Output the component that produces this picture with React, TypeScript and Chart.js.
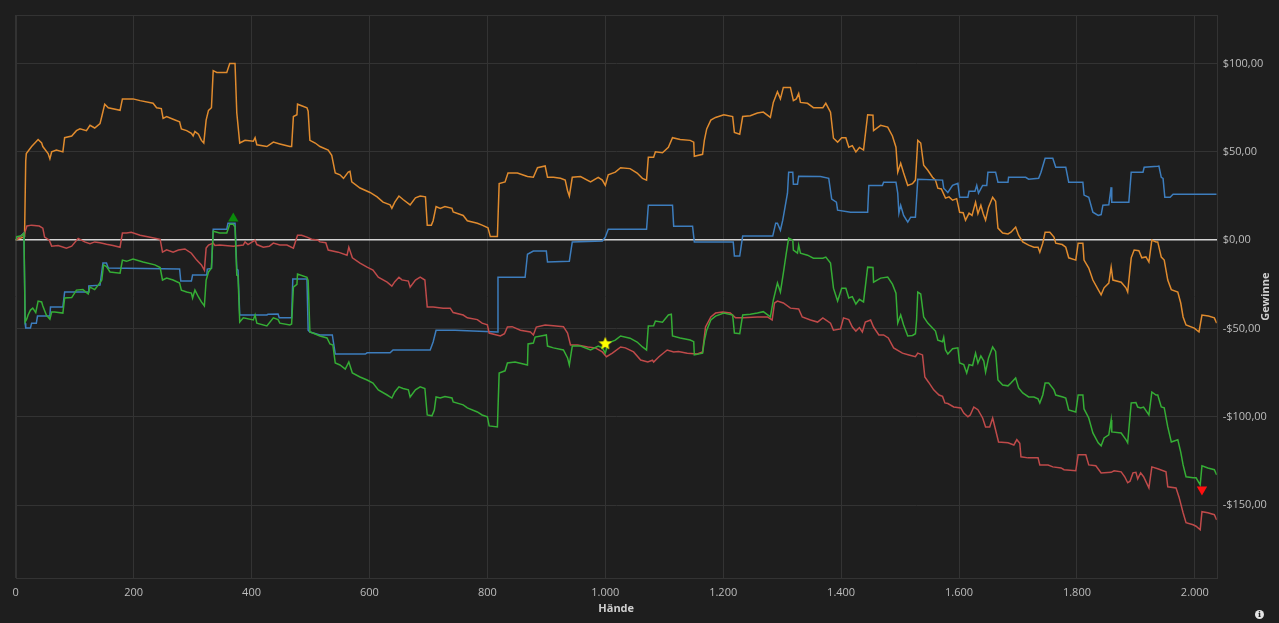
import React, { useEffect, useRef } from 'react';
import { Chart, registerables } from 'chart.js';

Chart.register(...registerables);

// ---- data ---------------------------------------------------------------
const xTickValues = [0, 200, 400, 600, 800, 1000, 1200, 1400, 1600, 1800, 2000];
const yTickValues = [-150, -100, -50, 0, 50, 100];
const X_MIN = 0;
const X_MAX = 2037;
const Y_MIN = -191.5;
const Y_MAX = 127.5;

const xTitle = 'Hände';
const yTitle = 'Gewinne';

// [hand, winnings $]
const orangeSeries: number[][] = [
  [0,0],[15,2],[17,45],[18,49],[27,53],[38,57],[44,55],[46,53],[55,49],[58,46],[61,50],[69,51],[80,50],[83,58],[95,59],[103,62],[109,63],[120,62],[126,65],[134,63.5],[143,66],[146,70],[151,77],[157,75],[177,73.5],[181,80],[199,80],[211,79],[233,77.5],[239,75],[247,74.5],[250,69],[256,70],[267,68.5],[278,67],[281,63],[290,62],[298,60.5],[301,59],[304,61.5],[310,60],[315,56.5],[319,55],[323,68],[327,73.5],[332,75],[335,96],[341,95],[358,95],[363,100],[372,100],[375,72],[380,55],[389,56.5],[403,56],[406,58],[409,54],[426,53],[437,55.5],[448,54.5],[465,53],[468,53],[471,70],[477,71],[478,77],[494,75],[496,73],[499,56.5],[508,55],[516,53],[530,51],[536,48],[542,38],[550,37],[556,35],[564,38.5],[567,39],[570,33],[584,29.5],[601,27],[613,24.5],[623,21.5],[635,20],[638,18],[643,21.5],[650,25],[657,23],[669,20],[678,24],[686,25],[695,24.5],[698,8.5],[705,8.5],[708,11],[713,19],[720,18],[728,19],[740,18],[742,16],[759,14],[766,11],[783,9.6],[791,8.5],[801,7],[805,2],[817,2],[820,32],[830,33],[835,38],[851,38],[868,36],[878,35.6],[885,41],[898,42],[902,35.6],[912,35.6],[924,35],[932,34],[936,28],[939,25],[944,35.6],[958,36],[975,33],[988,35.6],[995,34],[1000,31],[1005,37],[1017,38.5],[1026,41],[1042,40.5],[1054,38],[1063,35],[1070,34],[1073,47],[1082,47],[1085,50],[1097,49.5],[1107,52.6],[1114,58],[1127,57],[1144,56.5],[1150,55.5],[1151,47.5],[1165,48.6],[1168,56.5],[1172,63],[1179,68],[1187,69.5],[1201,71],[1216,70],[1219,61],[1228,60],[1233,70],[1246,70.5],[1258,72],[1268,72.5],[1280,69.5],[1285,78],[1292,84],[1297,80],[1302,86.5],[1314,86.5],[1319,79],[1324,80],[1328,83],[1331,78],[1343,77.5],[1353,75],[1369,75],[1374,77.5],[1382,72.5],[1387,57.7],[1394,55.5],[1401,58],[1408,58],[1413,52.6],[1419,53.5],[1425,50],[1431,52.5],[1438,51],[1445,71],[1454,70.7],[1455,62],[1467,65],[1479,64],[1487,59],[1493,52.6],[1496,38.5],[1501,43.5],[1506,38],[1513,31],[1521,32],[1526,34],[1528,45],[1530,56.5],[1535,55],[1540,42.4],[1547,39.6],[1555,35.6],[1560,34],[1564,29.4],[1570,29],[1577,23.8],[1583,24.5],[1589,22.6],[1596,23.5],[1601,15.8],[1607,15.5],[1611,11.3],[1617,15.3],[1622,14],[1628,21.5],[1632,15],[1637,19.8],[1641,15],[1645,11.3],[1650,18.7],[1657,24.3],[1662,22],[1666,6.8],[1674,4],[1683,3.5],[1688,4.5],[1696,7.4],[1701,2.8],[1708,-1],[1718,-2.8],[1727,-4],[1734,-4],[1737,-6.8],[1742,-1.7],[1746,4.5],[1754,4.5],[1761,1.7],[1764,-1.7],[1775,-2.5],[1781,-4],[1786,-10],[1798,-11.3],[1802,-1.7],[1810,-1.7],[1812,-11.3],[1820,-15.8],[1827,-22.6],[1836,-28],[1841,-31],[1846,-27],[1854,-24.3],[1858,-15.3],[1861,-22.6],[1875,-23.8],[1883,-27],[1886,-29.4],[1892,-10],[1897,-5.6],[1905,-6],[1910,-10],[1917,-9.5],[1922,-12.4],[1927,0],[1934,-1],[1937,-1],[1943,-9.6],[1948,-11.3],[1954,-22.6],[1960,-28],[1971,-29.4],[1976,-35.6],[1980,-43.5],[1985,-48],[1999,-49.8],[2007,-52],[2012,-42.4],[2023,-43],[2033,-44],[2037,-47]
];

const redSeries: number[][] = [
  [0,0],[15,3.8],[19,8],[27,8.5],[40,8],[46,6.8],[49,1.7],[57,0],[61,-3.4],[72,-3],[86,-4.5],[95,-3.4],[106,1],[117,-1],[126,-2],[134,-1],[143,-1.5],[154,-2.3],[165,-3],[177,-4],[181,4],[188,4],[196,4.5],[211,2.8],[228,1.7],[245,0.5],[249,-6.8],[256,-5.5],[267,-6.8],[276,-5.6],[287,-5],[298,-7.4],[307,-11.3],[315,-14],[320,-17],[323,-4.5],[327,-2.8],[335,-1.7],[338,-3],[346,-2.8],[369,-3.4],[386,-2.8],[389,-1],[394,-2.5],[406,0],[409,-2.5],[420,-4],[430,-3.5],[437,-1.7],[448,-2.8],[460,-2.8],[471,-4.5],[478,2.8],[485,2.8],[494,1.7],[502,0.5],[513,0],[516,-1],[526,-1.5],[530,-5.6],[547,-6.8],[562,-8.5],[565,-4],[571,-10],[584,-13],[596,-15.3],[606,-17],[615,-21],[630,-23.8],[638,-26],[643,-23.5],[650,-21],[655,-22.5],[666,-23.2],[669,-26.6],[678,-22.6],[686,-21],[694,-22.6],[698,-37.9],[708,-37.9],[725,-38.5],[737,-38.5],[742,-41],[759,-42.4],[766,-44],[783,-45],[791,-47],[800,-48],[803,-52.6],[822,-54.3],[829,-53],[834,-49.2],[842,-49],[856,-51],[873,-52],[878,-53.7],[883,-49.2],[898,-48],[912,-48.5],[929,-49],[936,-52.6],[941,-59.4],[953,-59.4],[970,-60.5],[983,-61],[995,-63.3],[1002,-66],[1012,-64],[1026,-60.5],[1034,-61],[1048,-63.3],[1060,-67.9],[1072,-69],[1080,-68],[1082,-69],[1091,-66],[1105,-62.2],[1116,-63.3],[1124,-63],[1139,-64],[1156,-64.5],[1165,-63.3],[1170,-49.2],[1179,-43.5],[1187,-41.3],[1199,-40.7],[1212,-41.3],[1221,-44],[1234,-44],[1258,-43.5],[1275,-43.5],[1283,-45.2],[1287,-35.6],[1292,-34.5],[1302,-35.6],[1314,-38.5],[1328,-39],[1334,-43.5],[1348,-45.2],[1360,-46.4],[1369,-44],[1382,-47],[1387,-51],[1399,-50.3],[1404,-44],[1413,-45],[1419,-49.2],[1425,-51.5],[1431,-49.5],[1436,-52],[1441,-46.4],[1450,-45.2],[1455,-49.2],[1464,-53.7],[1472,-53.7],[1480,-55.4],[1489,-61],[1504,-64],[1515,-65],[1526,-66],[1530,-64],[1538,-65],[1542,-77.5],[1548,-80.3],[1557,-84.8],[1566,-87.7],[1572,-88.5],[1576,-92.2],[1581,-92.5],[1591,-94.5],[1603,-95],[1608,-97.9],[1615,-100],[1619,-99],[1625,-94.5],[1632,-96],[1640,-100.7],[1645,-105.8],[1652,-105.8],[1657,-100.7],[1662,-107.5],[1667,-114.3],[1683,-114.8],[1693,-116],[1698,-113],[1703,-115],[1705,-122.7],[1717,-123.3],[1734,-123.3],[1737,-127.3],[1751,-127.3],[1759,-128.4],[1773,-129],[1778,-130],[1798,-130.6],[1802,-121.6],[1815,-121.6],[1820,-127.3],[1832,-127.8],[1841,-131.8],[1858,-131.5],[1863,-130.6],[1875,-131.2],[1881,-134],[1886,-137.4],[1890,-136.5],[1895,-131.8],[1900,-131.5],[1903,-135.2],[1908,-131.8],[1913,-134],[1922,-140.3],[1927,-128.4],[1937,-129.5],[1951,-131.2],[1954,-139.7],[1968,-140.3],[1973,-145.4],[1980,-154.4],[1985,-160],[1997,-161.2],[2002,-162],[2009,-164],[2012,-153.8],[2022,-154.4],[2033,-155.5],[2037,-158.4]
];

const blueSeries: number[][] = [
  [0,0],[14,4],[16,-47],[17,-49.8],[25,-49.8],[27,-47],[35,-47],[37,-43],[58,-43],[59,-37.9],[80,-37.9],[83,-29.4],[123,-29.4],[124,-26],[143,-25.5],[148,-13],[154,-13],[157,-15.8],[278,-16.4],[280,-23.2],[298,-23.2],[300,-19.8],[324,-19.8],[325,-16.4],[332,-16],[335,6.2],[358,6.2],[360,9.6],[372,9.6],[375,-16.4],[377,-17],[380,-42.4],[426,-42.4],[428,-42],[445,-41.9],[447,-44],[468,-44],[470,-22],[494,-22],[496,-51],[499,-52],[516,-53.7],[537,-53.7],[542,-64.5],[593,-64.5],[596,-63.8],[635,-63.8],[640,-62.2],[703,-62.2],[708,-57.7],[713,-51],[745,-51],[817,-52],[818,-21],[864,-21],[868,-8],[878,-6.2],[900,-6.2],[902,-12.4],[939,-11.9],[944,-1],[995,-0.5],[1000,1.7],[1005,6.2],[1070,6.2],[1073,19.8],[1114,19.8],[1116,7.9],[1148,7.9],[1151,-1],[1217,-1],[1219,-9],[1228,-9],[1233,2.3],[1284,2.3],[1289,9.6],[1292,9.6],[1297,5.6],[1301,11.3],[1304,17],[1309,26.6],[1311,38.5],[1318,38.5],[1319,31.7],[1326,31.7],[1328,36.2],[1365,36],[1379,35],[1384,23.2],[1392,21.5],[1394,17],[1416,15.8],[1445,15.8],[1447,31],[1470,31],[1472,32.8],[1493,32.8],[1496,26.6],[1498,15.3],[1501,19.8],[1506,14],[1513,10.2],[1518,13],[1526,13],[1530,34.5],[1572,34],[1574,29.4],[1581,27],[1589,31],[1598,32.2],[1601,24.3],[1615,24.3],[1617,27.7],[1627,27.7],[1630,31],[1633,26.6],[1640,31],[1647,31],[1649,38.5],[1662,38.5],[1666,32.8],[1683,32.8],[1684,35.6],[1713,35.6],[1718,34.5],[1735,35],[1739,38.5],[1746,46.4],[1759,46.4],[1764,41.3],[1781,41.3],[1786,32.8],[1810,32.8],[1812,25.5],[1820,24.3],[1827,15.8],[1836,14],[1841,14.5],[1844,19.8],[1854,20],[1858,30],[1859,21.5],[1888,21.5],[1892,38.5],[1912,38.5],[1914,41.3],[1937,41.9],[1939,42],[1943,35.6],[1946,35],[1949,24.3],[1958,24.3],[1963,26],[2037,26]
];

const greenSeries: number[][] = [
  [0,0],[2,2],[10,2.5],[14,4],[16,-46.4],[19,-44.5],[21,-42.4],[25,-39.6],[29,-38.5],[34,-41],[38,-34.5],[44,-35],[46,-37.3],[52,-42.4],[58,-44.7],[61,-40.7],[66,-40.7],[80,-41.3],[83,-32.8],[95,-32.5],[103,-28.3],[114,-28],[123,-30.5],[126,-26.6],[134,-28],[140,-25.5],[146,-22.6],[149,-14],[154,-15],[160,-18],[177,-18.7],[181,-11.3],[188,-12],[199,-10.7],[216,-12.4],[236,-14],[245,-15.5],[249,-22.6],[256,-21.5],[267,-22.6],[278,-24.3],[281,-28.3],[290,-29.4],[298,-30],[300,-32.8],[304,-28.3],[310,-32.2],[315,-35],[320,-37.3],[323,-22.6],[327,-18],[332,-15.8],[335,5],[346,4],[358,4],[363,9],[369,9],[372,7.4],[375,-19.8],[377,-20],[380,-46.4],[386,-44],[403,-45.2],[406,-42.4],[409,-47],[426,-48.6],[437,-44],[445,-45],[448,-47],[465,-48],[468,-47.5],[471,-26.6],[477,-25],[478,-19.2],[494,-21],[496,-23],[499,-52],[504,-52.6],[516,-54.3],[528,-55.4],[533,-58.8],[538,-59.4],[542,-69.6],[550,-70.7],[559,-73],[565,-69],[571,-75.2],[584,-77.5],[596,-79.2],[606,-80.9],[615,-84.8],[630,-87.7],[638,-89.4],[643,-86],[650,-83.1],[657,-84],[666,-84.8],[669,-88.8],[678,-84.8],[686,-83.1],[694,-84],[698,-99],[706,-99.5],[710,-96.2],[713,-88.8],[720,-89.4],[728,-88.5],[740,-89.4],[742,-91.6],[759,-93.3],[766,-95],[783,-97.3],[791,-99],[800,-100],[803,-105.2],[817,-105.8],[820,-75.2],[830,-74],[834,-69.6],[847,-69],[868,-70.7],[869,-58.8],[878,-58.3],[881,-54.9],[900,-53.7],[902,-60],[912,-61],[929,-62.2],[936,-66.7],[939,-70.7],[944,-60],[958,-60],[975,-62.2],[988,-60],[995,-61],[1000,-64],[1005,-58.3],[1017,-56.6],[1026,-54.3],[1042,-55.5],[1054,-57.7],[1063,-60.5],[1070,-62.2],[1073,-48.6],[1082,-48.5],[1085,-45.8],[1097,-46.5],[1107,-42.4],[1112,-42],[1114,-54.3],[1127,-55.4],[1144,-56.6],[1150,-57.5],[1151,-65],[1165,-64],[1168,-57],[1172,-51],[1179,-45.2],[1187,-43],[1201,-41.3],[1216,-42.4],[1219,-52.6],[1228,-53],[1233,-42.4],[1246,-42],[1258,-41.3],[1268,-40.5],[1280,-43.5],[1285,-34],[1292,-24.3],[1297,-29.4],[1302,-18.7],[1307,-7.4],[1311,1.1],[1318,0],[1319,-5.6],[1326,-7.4],[1328,-2.8],[1331,-7.4],[1343,-8.5],[1353,-10.2],[1369,-10.2],[1374,-9.6],[1382,-13],[1387,-27.2],[1394,-34.5],[1401,-27.2],[1408,-27.2],[1413,-32.8],[1419,-32],[1425,-36.2],[1431,-33.5],[1438,-35],[1445,-15.3],[1454,-15.5],[1455,-23.8],[1467,-21.5],[1479,-20.9],[1487,-24.9],[1493,-30],[1496,-47],[1501,-42.4],[1506,-48],[1513,-54.3],[1521,-54],[1526,-53],[1528,-45],[1530,-29.4],[1535,-30.5],[1540,-43.5],[1547,-47],[1555,-49.8],[1560,-51.5],[1564,-56.6],[1572,-57.5],[1574,-55],[1577,-62.2],[1581,-64.5],[1589,-61.5],[1598,-61],[1601,-69.6],[1608,-70.5],[1613,-75.2],[1617,-70.5],[1623,-71],[1628,-64],[1632,-69.6],[1637,-65.6],[1642,-68.5],[1645,-74.7],[1650,-66.7],[1657,-60.5],[1662,-63],[1666,-79.2],[1674,-82],[1683,-82.5],[1688,-80.9],[1696,-78],[1701,-83.7],[1708,-86.5],[1718,-88.8],[1727,-88.8],[1734,-89.9],[1737,-92.2],[1742,-87.7],[1746,-80.9],[1752,-80.9],[1761,-84.8],[1764,-87.7],[1776,-88.8],[1781,-89.4],[1786,-96.2],[1798,-97.3],[1802,-87.7],[1810,-87.7],[1812,-95.6],[1820,-100.7],[1827,-109.2],[1836,-114.8],[1841,-116.5],[1846,-112],[1854,-110.3],[1858,-101.8],[1859,-108.6],[1875,-109.2],[1883,-113],[1886,-114.8],[1892,-92.2],[1900,-92],[1903,-94.5],[1908,-95],[1913,-94.5],[1922,-99],[1927,-86],[1934,-87.7],[1937,-87.7],[1943,-94.5],[1948,-95],[1954,-105.8],[1960,-114.3],[1971,-113],[1976,-120],[1980,-127.3],[1985,-134],[1997,-134.6],[2002,-134.6],[2009,-138.6],[2012,-127.8],[2022,-129],[2033,-130],[2037,-133]
];

// markers: [hand, $]
const maxMarker = [369, 12.3];
const starMarker = [1000, -58.3];
const minMarker = [2012, -141.2];

// ---- styling helpers ----------------------------------------------------
const BG = '#1e1e1e';
const GRID = '#333333';
const TEXT = '#bdbdbd';
const FONT = '"Open Sans", "Noto Sans", sans-serif';

const fmtX = (v: number) => {
  const n = Math.round(v);
  if (n >= 1000) return Math.floor(n / 1000) + '.' + String(n % 1000).padStart(3, '0');
  return String(n);
};
const fmtY = (v: number) => (v < 0 ? '-' : '') + '$' + Math.abs(v).toFixed(2).replace('.', ',');

const toPts = (s: number[][]) => s.map(([x, y]) => ({ x, y }));

function makeStar(size: number, color: string) {
  const c = document.createElement('canvas');
  c.width = size;
  c.height = size;
  const g = c.getContext('2d')!;
  const cx = size / 2;
  const cy = size / 2 + size * 0.05;
  const R = size / 2;
  const r = R * 0.45;
  g.beginPath();
  for (let i = 0; i < 10; i++) {
    const ang = -Math.PI / 2 + (i * Math.PI) / 5;
    const rad = i % 2 ? r : R;
    g.lineTo(cx + rad * Math.cos(ang), cy + rad * Math.sin(ang));
  }
  g.closePath();
  g.fillStyle = color;
  g.fill();
  return c;
}

const framePlugin = {
  id: 'frameAndTitles',
  beforeDatasetsDraw(chart: any) {
    const { ctx, chartArea: a } = chart;
    ctx.save();
    ctx.strokeStyle = GRID;
    ctx.lineWidth = 1;
    ctx.strokeRect(Math.round(a.left) + 0.5, Math.round(a.top) + 0.5, Math.round(a.right - a.left), Math.round(a.bottom - a.top));
    ctx.restore();
  },
  afterDraw(chart: any) {
    const { ctx, chartArea: a } = chart;
    ctx.save();
    ctx.fillStyle = '#cfcfcf';
    ctx.font = 'bold 11px ' + FONT;
    ctx.textAlign = 'center';
    ctx.textBaseline = 'middle';
    ctx.fillText(xTitle, (a.left + a.right) / 2, 609);
    ctx.translate(1266, (a.top + a.bottom) / 2);
    ctx.rotate(-Math.PI / 2);
    ctx.fillText(yTitle, 0, 0);
    ctx.restore();
  },
};

export default function App() {
  const ref = useRef<HTMLCanvasElement>(null);

  useEffect(() => {
    if (!ref.current) return;
    const star = makeStar(14, '#ffff00');
    const line = (data: number[][], color: string) => ({
      type: 'line' as const,
      data: toPts(data),
      borderColor: color,
      backgroundColor: color,
      borderWidth: 1.5,
      pointRadius: 0,
      tension: 0,
      fill: false,
    });
    const chart = new Chart(ref.current, {
      type: 'line',
      data: {
        datasets: [
          {
            type: 'line',
            data: toPts([maxMarker]),
            showLine: false,
            pointStyle: 'triangle',
            pointRadius: 6,
            pointBackgroundColor: '#0b8a0b',
            pointBorderColor: '#0b8a0b',
            pointBorderWidth: 0,
          } as any,
          {
            type: 'line',
            data: toPts([minMarker]),
            showLine: false,
            pointStyle: 'triangle',
            rotation: 180,
            pointRadius: 6,
            pointBackgroundColor: '#ff1010',
            pointBorderColor: '#ff1010',
            pointBorderWidth: 0,
          } as any,
          {
            type: 'line',
            data: toPts([starMarker]),
            showLine: false,
            pointStyle: star,
            pointRadius: 7,
          } as any,
          line(greenSeries, '#35ad35'),
          line(redSeries, '#bf4a4a'),
          line(blueSeries, '#3d7dbd'),
          line(orangeSeries, '#e08b2e'),
        ],
      },
      options: {
        responsive: false,
        animation: false,
        parsing: false as any,
        normalized: true,
        layout: { padding: { left: 15.7, top: 15, right: 0, bottom: 0 } },
        plugins: {
          legend: { display: false },
          tooltip: { enabled: false },
        },
        events: [],
        scales: {
          x: {
            type: 'linear',
            min: X_MIN,
            max: X_MAX,
            afterBuildTicks: (s: any) => {
              s.ticks = xTickValues.map((v) => ({ value: v }));
            },
            afterFit: (s: any) => {
              s.height = 44.7;
            },
            grid: { color: GRID, lineWidth: 1, drawTicks: false },
            border: { display: false },
            ticks: {
              color: TEXT,
              padding: 8,
              font: { family: FONT, size: 11 },
              maxRotation: 0,
              autoSkip: false,
              callback: (v: any) => fmtX(Number(v)),
            },
          },
          y: {
            type: 'linear',
            position: 'right',
            min: Y_MIN,
            max: Y_MAX,
            afterBuildTicks: (s: any) => {
              s.ticks = yTickValues.map((v) => ({ value: v }));
            },
            afterFit: (s: any) => {
              s.width = 62.3;
            },
            grid: {
              color: (c: any) => (c.tick && c.tick.value === 0 ? '#d4d4d4' : GRID),
              lineWidth: (c: any) => (c.tick && c.tick.value === 0 ? 1.5 : 1),
              drawTicks: false,
            },
            border: { display: false },
            ticks: {
              color: TEXT,
              padding: 6,
              font: { family: FONT, size: 11 },
              autoSkip: false,
              callback: (v: any) => fmtY(Number(v)),
            },
          },
        },
      },
      plugins: [framePlugin],
    });
    return () => chart.destroy();
  }, []);

  return (
    <div
      style={{
        position: 'fixed',
        left: 0,
        top: 0,
        width: 1279,
        height: 623,
        background: BG,
        overflow: 'hidden',
      }}
    >
      <canvas ref={ref} width={1279} height={623} style={{ display: 'block' }} />
      <div
        style={{
          position: 'absolute',
          left: 1255,
          top: 610,
          width: 9,
          height: 9,
          borderRadius: '50%',
          background: '#e4e4e4',
          color: BG,
          fontSize: 8,
          fontWeight: 'bold',
          lineHeight: '9px',
          textAlign: 'center',
          fontFamily: '"DejaVu Serif", serif',
        }}
      >
        i
      </div>
    </div>
  );
}
